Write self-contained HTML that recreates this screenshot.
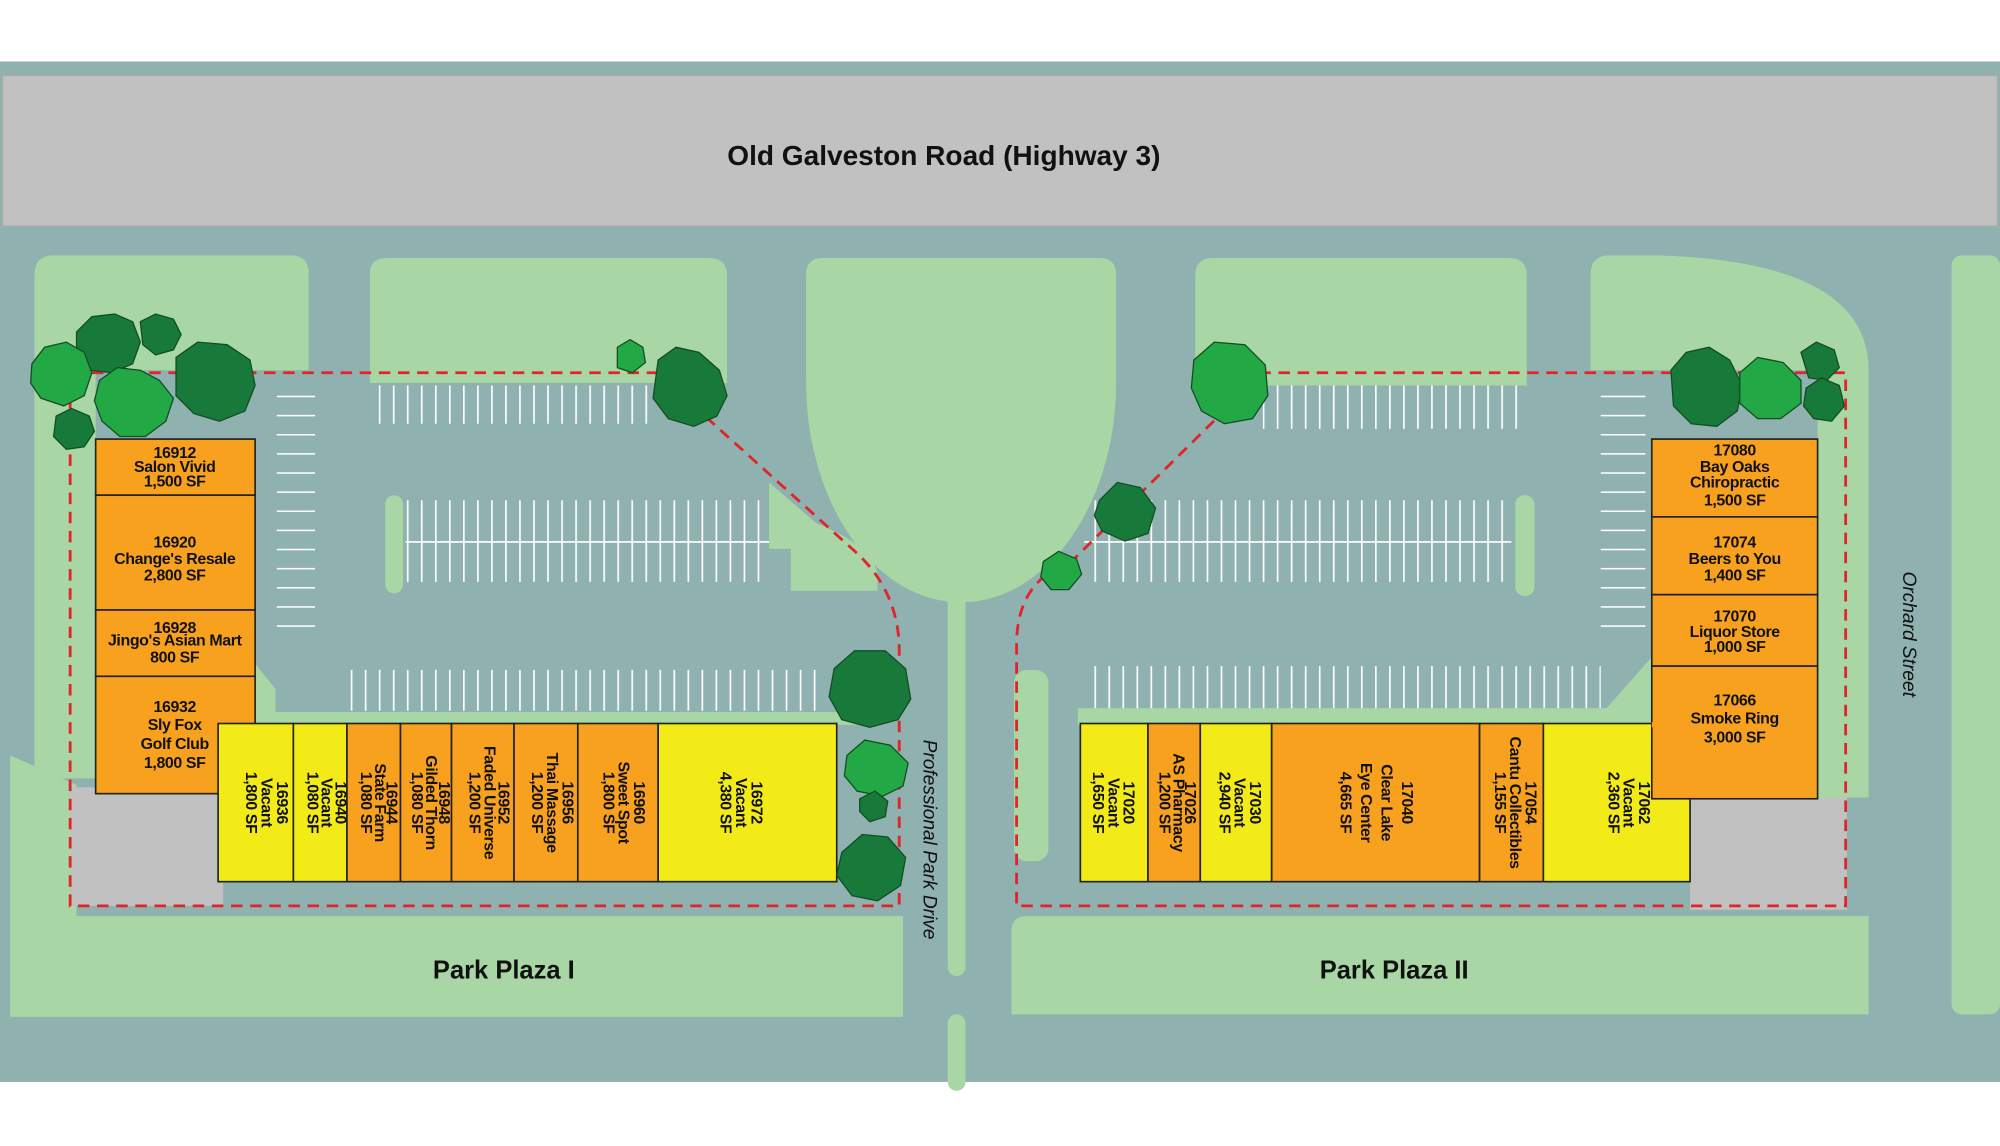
<!DOCTYPE html>
<html><head><meta charset="utf-8"><style>
html,body{margin:0;padding:0;background:#fff;}
svg{display:block;}
text{font-family:"Liberation Sans",sans-serif;}
.u{font-size:12.5px;font-weight:bold;fill:#111;letter-spacing:-0.3px;}
</style></head><body>
<svg width="2000" height="1146" viewBox="0 0 1568 898" xmlns="http://www.w3.org/2000/svg">
<defs>
<pattern id="pk" width="11" height="10" patternUnits="userSpaceOnUse"><rect x="0" y="0" width="1.3" height="10" fill="#fff"/></pattern>
</defs>
<rect width="1568" height="898" fill="#fff"/>
<rect x="0" y="48" width="1568" height="800" fill="#8fb1af"/>
<rect x="2" y="59" width="1564" height="118" fill="#c1c1c1" stroke="#aaa"/>
<text x="740" y="129" font-size="22" font-weight="bold" text-anchor="middle" fill="#111">Old Galveston Road (Highway 3)</text>

<g fill="#a8d7a5">
<path d="M27,215 Q27,200 42,200 L228,200 Q242,200 242,214 L242,290 L75,290 L75,610 L27,610 Z"/>
<path d="M290,214 Q290,202 304,202 L556,202 Q570,202 570,216 L570,300 L290,300 Z"/>
<path d="M632,215 Q632,202 645,202 L862,202 Q875,202 875,215 L875,300 A121.5,172 0 0 1 632,300 Z"/>
<path d="M937,216 Q937,202 951,202 L1183,202 Q1197,202 1197,216 L1197,302 L937,302 Z"/>
<path d="M1247,215 Q1247,200 1262,200 L1300,200 Q1465,205 1465,290 L1465,625 L1425,625 L1425,290 L1247,290 Z"/>
<rect x="1530" y="200" width="38" height="595" rx="8"/>
<path d="M8,592 L60,615 L60,718 L708,718 L708,797 L8,797 Z"/>
<path d="M805,718 L1465,718 L1465,795 L793,795 L793,730 Q793,718 805,718 Z"/>
<rect x="743" y="455" width="14" height="310" rx="7"/>
<rect x="743" y="795" width="14" height="60" rx="7"/>
<path d="M603,378 L640,410 Q690,430 688,455 L688,463 L620,463 L620,430 L603,430 Z"/>
<rect x="302" y="388" width="14" height="77" rx="7"/>
<rect x="1188" y="388" width="15" height="79" rx="7"/>
<rect x="795" y="525" width="27" height="150" rx="10"/>
<rect x="200" y="558" width="490" height="10"/>
<rect x="845" y="555" width="451" height="13"/>
<path d="M200,520 L216,540 L216,568 L200,568 Z"/>
<path d="M1295,515 L1255,560 L1295,560 Z"/>
</g>

<!-- parking stripes -->
<rect x="290" y="302" width="220" height="30" fill="url(#pk)"/>
<rect x="318" y="392" width="285" height="64" fill="url(#pk)"/>
<rect x="318" y="424" width="285" height="1.3" fill="#fff"/>
<rect x="270" y="525" width="375" height="32" fill="url(#pk)"/>
<rect x="217" y="305" width="30" height="250" fill="none"/>
<g fill="#fff"><rect x="217" y="310" width="30" height="1.2"/><rect x="217" y="325" width="30" height="1.2"/><rect x="217" y="340" width="30" height="1.2"/><rect x="217" y="355" width="30" height="1.2"/><rect x="217" y="370" width="30" height="1.2"/><rect x="217" y="385" width="30" height="1.2"/><rect x="217" y="400" width="30" height="1.2"/><rect x="217" y="415" width="30" height="1.2"/><rect x="217" y="430" width="30" height="1.2"/><rect x="217" y="445" width="30" height="1.2"/><rect x="217" y="460" width="30" height="1.2"/><rect x="217" y="475" width="30" height="1.2"/><rect x="217" y="490" width="30" height="1.2"/>
<rect x="1255" y="310" width="35" height="1.2"/><rect x="1255" y="325" width="35" height="1.2"/><rect x="1255" y="340" width="35" height="1.2"/><rect x="1255" y="355" width="35" height="1.2"/><rect x="1255" y="370" width="35" height="1.2"/><rect x="1255" y="385" width="35" height="1.2"/><rect x="1255" y="400" width="35" height="1.2"/><rect x="1255" y="415" width="35" height="1.2"/><rect x="1255" y="430" width="35" height="1.2"/><rect x="1255" y="445" width="35" height="1.2"/><rect x="1255" y="460" width="35" height="1.2"/><rect x="1255" y="475" width="35" height="1.2"/><rect x="1255" y="490" width="35" height="1.2"/></g>
<rect x="990" y="302" width="200" height="34" fill="url(#pk)"/>
<rect x="850" y="392" width="335" height="64" fill="url(#pk)"/>
<rect x="850" y="424" width="335" height="1.3" fill="#fff"/>
<rect x="850" y="522" width="405" height="33" fill="url(#pk)"/>

<!-- gray pads -->
<rect x="55" y="617" width="120" height="93" fill="#c1c1c1"/>
<rect x="1325" y="625" width="123" height="88" fill="#c1c1c1"/>

<!-- red dashed boundaries -->
<g fill="none" stroke="#e0242a" stroke-width="2.2" stroke-dasharray="9,6">
<path d="M55,710 L55,292 L515,292 L668,430 Q705,462 705,510 L705,710 Z"/>
<path d="M797,708 L797,505 Q797,455 840,440 L990,292 L1447,292 L1447,710 L797,710"/>
</g>

<!-- buildings -->
<g stroke="#222" stroke-width="1.3">
<rect x="75" y="344" width="125" height="44" fill="#f7a11f"/>
<rect x="75" y="388" width="125" height="90" fill="#f7a11f"/>
<rect x="75" y="478" width="125" height="52" fill="#f7a11f"/>
<rect x="75" y="530" width="125" height="92" fill="#f7a11f"/>
<rect x="171" y="567" width="59" height="124" fill="#f2eb18"/>
<rect x="230" y="567" width="42" height="124" fill="#f2eb18"/>
<rect x="272" y="567" width="42" height="124" fill="#f7a11f"/>
<rect x="314" y="567" width="40" height="124" fill="#f7a11f"/>
<rect x="354" y="567" width="49" height="124" fill="#f7a11f"/>
<rect x="403" y="567" width="50" height="124" fill="#f7a11f"/>
<rect x="453" y="567" width="63" height="124" fill="#f7a11f"/>
<rect x="516" y="567" width="140" height="124" fill="#f2eb18"/>
<rect x="847" y="567" width="53" height="124" fill="#f2eb18"/>
<rect x="900" y="567" width="41" height="124" fill="#f7a11f"/>
<rect x="941" y="567" width="56" height="124" fill="#f2eb18"/>
<rect x="997" y="567" width="163" height="124" fill="#f7a11f"/>
<rect x="1160" y="567" width="50" height="124" fill="#f7a11f"/>
<rect x="1210" y="567" width="115" height="124" fill="#f2eb18"/>
<rect x="1295" y="344" width="130" height="61" fill="#f7a11f"/>
<rect x="1295" y="405" width="130" height="61" fill="#f7a11f"/>
<rect x="1295" y="466" width="130" height="56" fill="#f7a11f"/>
<rect x="1295" y="522" width="130" height="104" fill="#f7a11f"/>
</g>
<rect x="1295" y="566" width="28" height="4" fill="#f7a11f"/>

<!-- left column labels -->
<g class="u" text-anchor="middle">
<text x="137" y="359">16912<tspan x="137" dy="11">Salon Vivid</tspan><tspan x="137" dy="11">1,500 SF</tspan></text>
<text x="137" y="429">16920<tspan x="137" dy="13">Change's Resale</tspan><tspan x="137" dy="13">2,800 SF</tspan></text>
<text x="137" y="496">16928<tspan x="137" dy="10">Jingo's Asian Mart</tspan><tspan x="137" dy="13">800 SF</tspan></text>
<text x="137" y="558">16932<tspan x="137" dy="14">Sly Fox</tspan><tspan x="137" dy="15">Golf Club</tspan><tspan x="137" dy="15">1,800 SF</tspan></text>
<text x="1360" y="357">17080<tspan x="1360" dy="13">Bay Oaks</tspan><tspan x="1360" dy="12">Chiropractic</tspan><tspan x="1360" dy="14">1,500 SF</tspan></text>
<text x="1360" y="429">17074<tspan x="1360" dy="13">Beers to You</tspan><tspan x="1360" dy="13">1,400 SF</tspan></text>
<text x="1360" y="487">17070<tspan x="1360" dy="12">Liquor Store</tspan><tspan x="1360" dy="12">1,000 SF</tspan></text>
<text x="1360" y="553">17066<tspan x="1360" dy="14">Smoke Ring</tspan><tspan x="1360" dy="15">3,000 SF</tspan></text>
</g>

<!-- rotated labels: rotate 90 at center; lines go downward = leftward on screen -->
<g class="u" text-anchor="middle">
<text transform="translate(217,629) rotate(90)">16936<tspan x="0" dy="12">Vacant</tspan><tspan x="0" dy="12">1,800 SF</tspan></text>
<text transform="translate(263,629) rotate(90)">16940<tspan x="0" dy="11">Vacant</tspan><tspan x="0" dy="11">1,080 SF</tspan></text>
<text transform="translate(303,629) rotate(90)">16944<tspan x="0" dy="9">State Farm</tspan><tspan x="0" dy="11">1,080 SF</tspan></text>
<text transform="translate(344,629) rotate(90)">16948<tspan x="0" dy="10">Gilded Thorn</tspan><tspan x="0" dy="11">1,080 SF</tspan></text>
<text transform="translate(391,629) rotate(90)">16952<tspan x="0" dy="11">Faded Universe</tspan><tspan x="0" dy="12">1,200 SF</tspan></text>
<text transform="translate(441,629) rotate(90)">16956<tspan x="0" dy="12">Thai Massage</tspan><tspan x="0" dy="12">1,200 SF</tspan></text>
<text transform="translate(497,629) rotate(90)">16960<tspan x="0" dy="12">Sweet Spot</tspan><tspan x="0" dy="12">1,800 SF</tspan></text>
<text transform="translate(589,629) rotate(90)">16972<tspan x="0" dy="12">Vacant</tspan><tspan x="0" dy="12">4,380 SF</tspan></text>
<text transform="translate(881,629) rotate(90)">17020<tspan x="0" dy="12">Vacant</tspan><tspan x="0" dy="12">1,650 SF</tspan></text>
<text transform="translate(929,629) rotate(90)">17026<tspan x="0" dy="9">AS Pharmacy</tspan><tspan x="0" dy="11">1,200 SF</tspan></text>
<text transform="translate(980,629) rotate(90)">17030<tspan x="0" dy="12">Vacant</tspan><tspan x="0" dy="12">2,940 SF</tspan></text>
<text transform="translate(1099,629) rotate(90)">17040<tspan x="0" dy="16">Clear Lake</tspan><tspan x="0" dy="16">Eye Center</tspan><tspan x="0" dy="16">4,665 SF</tspan></text>
<text transform="translate(1196,629) rotate(90)">17054<tspan x="0" dy="12">Cantu Collectibles</tspan><tspan x="0" dy="12">1,155 SF</tspan></text>
<text transform="translate(1285,629) rotate(90)">17062<tspan x="0" dy="12">Vacant</tspan><tspan x="0" dy="12">2,360 SF</tspan></text>
</g>

<!-- trees -->
<g stroke="#114d22" stroke-width="1">
<path d="M60,260 L72,248 L90,246 L104,252 L110,268 L104,285 L88,292 L70,290 L60,278 Z" fill="#187a3a"/>
<path d="M110,252 L122,246 L136,250 L142,262 L136,274 L122,278 L112,270 Z" fill="#187a3a"/>
<path d="M138,280 L155,268 L178,270 L196,282 L200,302 L192,322 L172,330 L152,324 L138,310 Z" fill="#187a3a"/>
<path d="M25,285 L35,272 L52,268 L66,276 L72,292 L66,310 L50,318 L32,312 L24,300 Z" fill="#22a844"/>
<path d="M78,298 L92,288 L110,290 L125,298 L136,312 L130,330 L114,342 L94,342 L80,330 L74,314 Z" fill="#22a844"/>
<path d="M44,326 L56,320 L70,326 L74,338 L66,350 L52,352 L42,342 Z" fill="#187a3a"/>
<path d="M484,272 L494,266 L504,272 L506,284 L496,292 L484,288 Z" fill="#22a844"/>
<path d="M516,282 L530,272 L548,276 L564,290 L570,310 L562,326 L544,334 L524,328 L512,312 Z" fill="#187a3a"/>
<path d="M654,524 L670,510 L694,510 L710,524 L714,548 L704,564 L682,570 L660,564 L650,546 Z" fill="#187a3a"/>
<path d="M664,592 L678,580 L698,584 L712,598 L708,616 L692,624 L672,620 L662,608 Z" fill="#22a844"/>
<path d="M674,626 L686,620 L696,628 L694,640 L682,644 L674,636 Z" fill="#187a3a"/>
<path d="M660,668 L676,654 L696,656 L710,672 L706,694 L688,706 L668,702 L656,686 Z" fill="#187a3a"/>
<path d="M936,282 L952,268 L976,270 L992,286 L994,310 L982,328 L960,332 L942,322 L934,304 Z" fill="#22a844"/>
<path d="M862,392 L876,378 L894,382 L906,398 L900,418 L882,424 L864,416 L858,404 Z" fill="#187a3a"/>
<path d="M818,440 L830,432 L844,438 L848,450 L838,462 L824,462 L816,452 Z" fill="#22a844"/>
<path d="M1310,290 L1322,276 L1340,272 L1356,282 L1366,302 L1362,322 L1346,334 L1326,332 L1312,318 Z" fill="#187a3a"/>
<path d="M1364,292 L1378,280 L1398,284 L1412,298 L1412,316 L1396,328 L1378,328 L1364,316 Z" fill="#22a844"/>
<path d="M1412,276 L1424,268 L1438,274 L1442,288 L1432,298 L1418,296 Z" fill="#187a3a"/>
<path d="M1416,304 L1428,296 L1442,302 L1446,318 L1436,330 L1422,328 L1414,318 Z" fill="#187a3a"/>
</g>

<text x="395" y="767" font-size="20" font-weight="bold" text-anchor="middle" fill="#111">Park Plaza I</text>
<text x="1093" y="767" font-size="20" font-weight="bold" text-anchor="middle" fill="#111">Park Plaza II</text>
<text transform="translate(724,658) rotate(90)" font-size="15" font-style="italic" text-anchor="middle" fill="#111">Professional Park Drive</text>
<text transform="translate(1492,497) rotate(90)" font-size="15" font-style="italic" text-anchor="middle" fill="#111">Orchard Street</text>
</svg>
</body></html>
